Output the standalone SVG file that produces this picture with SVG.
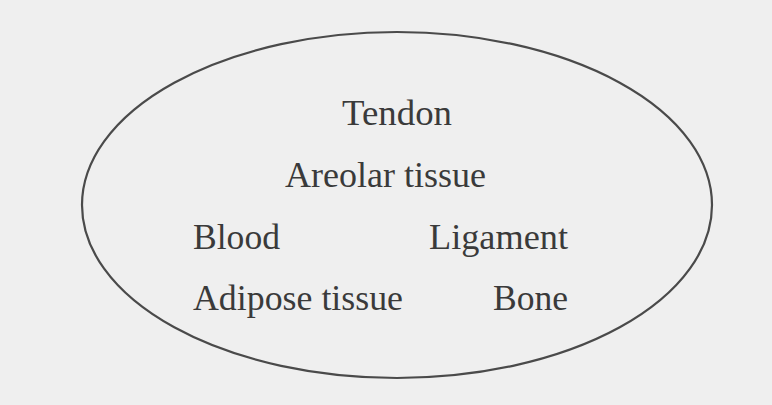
<svg xmlns="http://www.w3.org/2000/svg" width="772" height="405" viewBox="0 0 772 405">
  <style>
    .lbl { font-family: "Liberation Serif", "Times New Roman", serif; font-size: 36px; fill: #3a3a3a; }
    .ring { fill: none; stroke: #4a4a4a; stroke-width: 2.2; }
  </style>
  <rect x="0" y="0" width="772" height="405" fill="#efefef"/>
  <g id="boundary">
    <ellipse class="ring" cx="397" cy="205" rx="315" ry="173"/>
  </g>
  <g id="connectors"></g>
  <g id="tendon"><text class="lbl" x="342" y="125" textLength="110" lengthAdjust="spacingAndGlyphs">Tendon</text></g>
  <g id="areolar-tissue"><text class="lbl" x="285" y="187" textLength="201" lengthAdjust="spacingAndGlyphs">Areolar tissue</text></g>
  <g id="blood"><text class="lbl" x="193" y="249" textLength="87" lengthAdjust="spacingAndGlyphs">Blood</text></g>
  <g id="ligament"><text class="lbl" x="429" y="249" textLength="139" lengthAdjust="spacingAndGlyphs">Ligament</text></g>
  <g id="adipose-tissue"><text class="lbl" x="193" y="310" textLength="210" lengthAdjust="spacingAndGlyphs">Adipose tissue</text></g>
  <g id="bone"><text class="lbl" x="493" y="310" textLength="75" lengthAdjust="spacingAndGlyphs">Bone</text></g>
</svg>
